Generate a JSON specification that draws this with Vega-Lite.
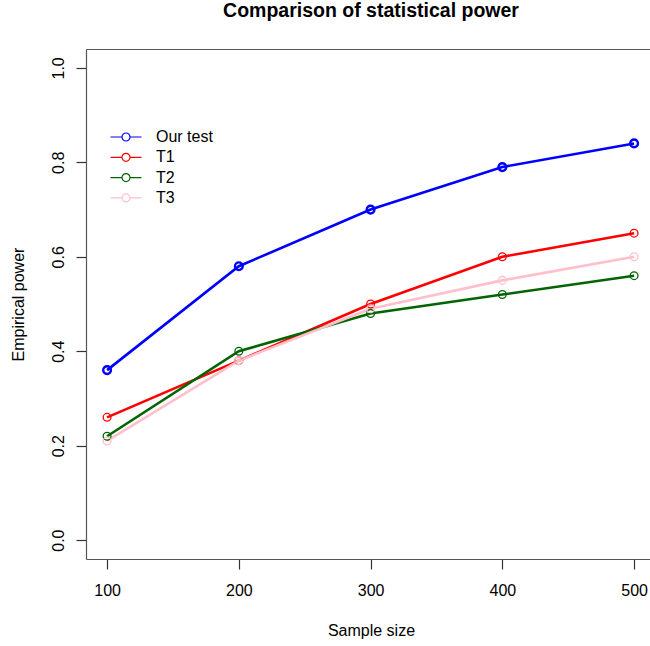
{
  "$schema": "https://vega.github.io/schema/vega-lite/v6.json",
  "width": 564,
  "height": 510,
  "autosize": {"type": "none"},
  "padding": {"left": 86, "top": 49, "right": 0, "bottom": 87},
  "background": "white",
  "title": {
    "text": "Comparison of statistical power",
    "fontSize": 19.5,
    "fontWeight": "bold",
    "font": "Liberation Sans",
    "color": "black",
    "anchor": "middle",
    "frame": "group",
    "baseline": "alphabetic",
    "offset": 13,
    "dx": 3
  },
  "config": {
    "view": {"stroke": null},
    "font": "Liberation Sans",
    "axis": {
      "grid": false,
      "domainColor": "#555",
      "domainWidth": 1.2,
      "tickColor": "#333",
      "tickSize": 10,
      "tickWidth": 1.2,
      "labelFont": "Liberation Sans",
      "labelFontSize": 16,
      "labelColor": "black",
      "titleFont": "Liberation Sans",
      "titleFontSize": 16,
      "titleFontWeight": "normal",
      "titleColor": "black"
    }
  },
  "data": {
    "values": [
      {"n": 100, "power": 0.36, "test": "Our test"},
      {"n": 200, "power": 0.58, "test": "Our test"},
      {"n": 300, "power": 0.70, "test": "Our test"},
      {"n": 400, "power": 0.79, "test": "Our test"},
      {"n": 500, "power": 0.84, "test": "Our test"},
      {"n": 100, "power": 0.26, "test": "T1"},
      {"n": 200, "power": 0.38, "test": "T1"},
      {"n": 300, "power": 0.50, "test": "T1"},
      {"n": 400, "power": 0.60, "test": "T1"},
      {"n": 500, "power": 0.65, "test": "T1"},
      {"n": 100, "power": 0.22, "test": "T2"},
      {"n": 200, "power": 0.40, "test": "T2"},
      {"n": 300, "power": 0.48, "test": "T2"},
      {"n": 400, "power": 0.52, "test": "T2"},
      {"n": 500, "power": 0.56, "test": "T2"},
      {"n": 100, "power": 0.21, "test": "T3"},
      {"n": 200, "power": 0.38, "test": "T3"},
      {"n": 300, "power": 0.49, "test": "T3"},
      {"n": 400, "power": 0.55, "test": "T3"},
      {"n": 500, "power": 0.60, "test": "T3"}
    ]
  },
  "resolve": {"axis": {"x": "independent"}},
  "layer": [
    {
      "mark": {"type": "line", "strokeWidth": 2.6},
      "encoding": {
        "x": {
          "field": "n", "type": "quantitative",
          "scale": {"domain": [84, 512.08], "nice": false, "zero": false},
          "axis": {
            "orient": "bottom",
            "values": [100, 200, 300, 400, 500],
            "title": "Sample size",
            "labelBaseline": "alphabetic",
            "labelPadding": 26.5,
            "titleBaseline": "alphabetic",
            "titleAnchor": "middle",
            "titleX": 285,
            "titleY": 76
          }
        },
        "y": {
          "field": "power", "type": "quantitative",
          "scale": {"domain": [-0.04, 1.04], "nice": false, "zero": false},
          "axis": {
            "values": [0, 0.2, 0.4, 0.6, 0.8, 1.0],
            "format": ".1f",
            "title": "Empirical power",
            "labelAngle": 270,
            "labelAlign": "center",
            "labelBaseline": "alphabetic",
            "labelPadding": 13,
            "titleAngle": 270,
            "titleBaseline": "alphabetic",
            "titleX": -63,
            "titleY": 255
          }
        },
        "color": {
          "field": "test", "type": "nominal",
          "scale": {"domain": ["Our test", "T1", "T2", "T3"], "range": ["#0000FF", "#FF0000", "#006400", "#FFC0CB"]},
          "legend": {
            "orient": "none",
            "legendX": 29,
            "legendY": 77,
            "padding": 0,
            "title": null,
            "symbolType": "M-1.55,0L-0.4,0M0.4,0L1.55,0M0.4,0A0.4,0.4,0,1,1,-0.4,0A0.4,0.4,0,1,1,0.4,0",
            "symbolSize": 400,
            "symbolStrokeWidth": 1.2,
            "symbolOpacity": 1,
            "symbolFillColor": "transparent",
            "labelFont": "Liberation Sans",
            "labelFontSize": 16,
            "labelColor": "black",
            "labelOffset": 19,
            "rowPadding": 1.3
          }
        },
        "order": {"field": "n"}
      }
    },
    {
      "transform": [{"filter": "datum.test === 'Our test'"}],
      "mark": {"type": "point", "filled": false, "shape": "circle", "size": 60, "strokeWidth": 2.4, "opacity": 1},
      "encoding": {
        "x": {
          "field": "n", "type": "quantitative",
          "axis": {
            "orient": "top",
            "labels": false,
            "ticks": false,
            "title": null
          }
        },
        "y": {"field": "power", "type": "quantitative"},
        "color": {"field": "test", "type": "nominal"}
      }
    },
    {
      "transform": [{"filter": "datum.test !== 'Our test'"}],
      "mark": {"type": "point", "filled": false, "shape": "circle", "size": 60, "strokeWidth": 1.3, "opacity": 1},
      "encoding": {
        "x": {"field": "n", "type": "quantitative", "axis": null},
        "y": {"field": "power", "type": "quantitative"},
        "color": {"field": "test", "type": "nominal"}
      }
    }
  ]
}
